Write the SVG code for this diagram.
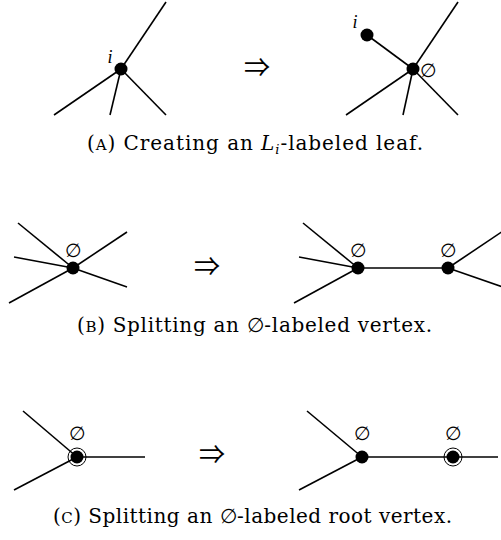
<svg xmlns="http://www.w3.org/2000/svg" width="501" height="540" viewBox="0 0 501 540">
<style>
.e{stroke:#000;stroke-width:1.6;fill:none;stroke-linecap:butt}
.v{fill:#000}
.ring{fill:none;stroke:#000;stroke-width:1}
.lbl{font-family:"DejaVu Serif",serif;font-size:19px;text-anchor:middle;fill:#000}
.it{font-family:"Liberation Serif",serif;font-style:italic;font-size:18px;text-anchor:middle;fill:#000}
.arr{font-family:"Noto Sans CJK SC","DejaVu Sans",sans-serif;font-size:26px;text-anchor:middle;fill:#000}
.cap{font-family:"DejaVu Serif",serif;font-size:20px;fill:#000}
</style>
<rect width="501" height="540" fill="#fff"/>
<g id="connectors">
<line class="e" x1="121" y1="69" x2="166" y2="2"/>
<line class="e" x1="121" y1="69" x2="54" y2="115"/>
<line class="e" x1="121" y1="69" x2="110" y2="115"/>
<line class="e" x1="121" y1="69" x2="166" y2="115"/>
<line class="e" x1="413" y1="69" x2="458" y2="2"/>
<line class="e" x1="413" y1="69" x2="346" y2="115"/>
<line class="e" x1="413" y1="69" x2="403" y2="115"/>
<line class="e" x1="413" y1="69" x2="458" y2="115"/>
<line class="e" x1="413" y1="69" x2="367" y2="35"/>
<line class="e" x1="73" y1="268" x2="18" y2="223"/>
<line class="e" x1="73" y1="268" x2="14" y2="257"/>
<line class="e" x1="73" y1="268" x2="9" y2="303"/>
<line class="e" x1="73" y1="268" x2="127" y2="232"/>
<line class="e" x1="73" y1="268" x2="127" y2="287"/>
<line class="e" x1="358" y1="268" x2="303" y2="223"/>
<line class="e" x1="358" y1="268" x2="299" y2="257"/>
<line class="e" x1="358" y1="268" x2="294" y2="303"/>
<line class="e" x1="358" y1="268" x2="448" y2="268"/>
<line class="e" x1="448" y1="268" x2="503" y2="231"/>
<line class="e" x1="448" y1="268" x2="503" y2="287"/>
<line class="e" x1="77" y1="457" x2="23" y2="411"/>
<line class="e" x1="77" y1="457" x2="14" y2="490"/>
<line class="e" x1="77" y1="457" x2="145" y2="457"/>
<line class="e" x1="362" y1="457" x2="307" y2="411"/>
<line class="e" x1="362" y1="457" x2="299" y2="490"/>
<line class="e" x1="362" y1="457" x2="453" y2="457"/>
<line class="e" x1="453" y1="457" x2="498" y2="457"/>
</g>
<g id="a-left-v">
<circle class="v" cx="121" cy="69" r="6.5"/>
<text class="it" x="110" y="63">i</text>
</g>
<g id="a-right-v">
<circle class="v" cx="413" cy="69" r="6.5"/>
<text class="lbl" x="428" y="77">∅</text>
</g>
<g id="a-right-leaf">
<circle class="v" cx="367" cy="35" r="6.5"/>
<text class="it" x="355" y="28">i</text>
</g>
<g id="b-left-v">
<circle class="v" cx="73" cy="268" r="6.5"/>
<text class="lbl" x="73" y="257">∅</text>
</g>
<g id="b-right-v1">
<circle class="v" cx="358" cy="268" r="6.5"/>
<text class="lbl" x="358" y="257">∅</text>
</g>
<g id="b-right-v2">
<circle class="v" cx="448" cy="268" r="6.5"/>
<text class="lbl" x="448" y="257">∅</text>
</g>
<g id="c-left-root">
<circle class="ring" cx="77" cy="457" r="9"/>
<circle class="v" cx="77" cy="457" r="6.5"/>
<text class="lbl" x="77" y="440">∅</text>
</g>
<g id="c-right-v">
<circle class="v" cx="362" cy="457" r="6.5"/>
<text class="lbl" x="362" y="440">∅</text>
</g>
<g id="c-right-root">
<circle class="ring" cx="453" cy="457" r="9"/>
<circle class="v" cx="453" cy="457" r="6.5"/>
<text class="lbl" x="453" y="440">∅</text>
</g>
<g id="arrows">
<text class="arr" x="257" y="77">⇒</text>
<text class="arr" x="207" y="276">⇒</text>
<text class="arr" x="212" y="464">⇒</text>
</g>
<g id="captions">
<text class="cap" x="87" y="150" textLength="336" lengthAdjust="spacing">(<tspan font-size="15">A</tspan>) Creating an <tspan font-style="italic">L</tspan><tspan font-style="italic" font-size="13" dy="4">i</tspan><tspan dy="-4">-labeled leaf.</tspan></text>
<text class="cap" x="77" y="332" textLength="355" lengthAdjust="spacing">(<tspan font-size="15">B</tspan>) Splitting an ∅-labeled vertex.</text>
<text class="cap" x="53" y="523" textLength="399" lengthAdjust="spacing">(<tspan font-size="15">C</tspan>) Splitting an ∅-labeled root vertex.</text>
</g>
</svg>
